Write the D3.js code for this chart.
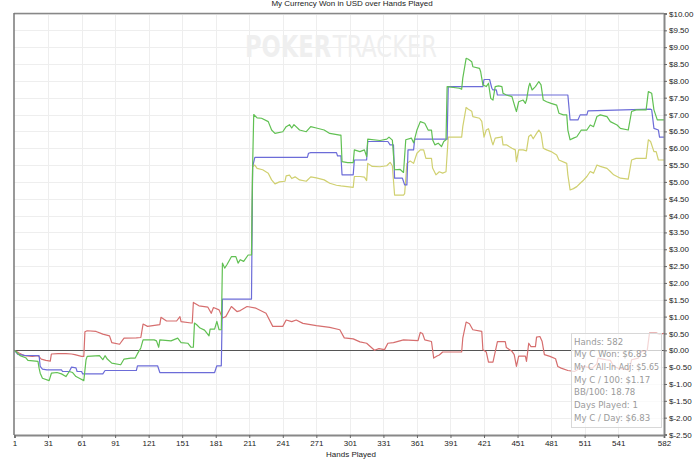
<!DOCTYPE html>
<html>
<head>
<meta charset="utf-8">
<script src="https://cdn.jsdelivr.net/npm/d3@7"></script>
<style>
  body { margin: 0; background: #fff; }
  svg { display: block; font-family: "Liberation Sans", Arial, sans-serif; }
</style>
</head>
<body>
<div id="chart"></div>
<script>
// hands played, tick labels
const xTicks = [1, 31, 61, 91, 121, 151, 181, 211, 241, 271, 301, 331, 361, 391, 421, 451, 481, 511, 541, 582];
const yTicks = d3.range(-2.5, 10.01, 0.5);

// [hand, dollars]
const netWon = [
  [1,0],[6,-0.16],[11,-0.22],[13,-0.3],[22,-0.33],[23,-0.53],[24,-0.68],[26,-0.83],[32,-0.9],[34,-0.68],
  [39,-0.66],[43,-0.7],[47,-0.78],[50,-0.63],[53,-0.66],[56,-0.78],[59,-0.83],[63,-0.9],[65,-0.28],[66,-0.18],
  [77,-0.16],[80,-0.28],[82,-0.16],[84,-0.26],[88,-0.38],[96,-0.43],[99,-0.26],[105,-0.23],[109,-0.23],[111,-0.1],
  [114,0.07],[116,0.31],[126,0.31],[128,0.28],[130,0.09],[131,0.31],[141,0.28],[147,0.36],[150,0.23],[156,0.21],
  [159,0.09],[161,0.09],[162,0.81],[164,0.76],[167,0.66],[171,0.6],[175,0.43],[176,0.63],[180,0.63],[182,0.86],
  [184,0.61],[186,0.61],[187,2.59],[189,2.44],[191,2.54],[195,2.78],[199,2.78],[201,2.59],[203,2.69],[206,2.64],
  [210,2.83],[213,2.83],[214,5.45],[215,7.0],[218,6.9],[222,6.89],[228,6.79],[231,6.54],[234,6.44],[241,6.49],
  [244,6.64],[247,6.7],[249,6.6],[251,6.7],[256,6.54],[262,6.49],[266,6.64],[271,6.6],[278,6.54],[283,6.44],
  [292,6.39],[293,6.39],[294,5.6],[299,5.57],[304,5.57],[305,5.95],[310,5.9],[314,5.95],[316,5.75],[317,6.27],
  [328,6.23],[334,6.27],[336,6.33],[339,6.24],[341,5.36],[346,5.37],[349,5.28],[351,6.25],[356,6.3],[358,6.16],
  [361,6.54],[364,6.79],[368,6.74],[371,6.54],[374,6.54],[375,6.25],[377,6.1],[380,6.15],[383,6.05],[385,6.2],
  [387,6.25],[388,7.83],[399,7.78],[401,7.75],[402,8.08],[405,8.67],[407,8.64],[410,8.57],[411,8.42],[417,8.37],
  [418,8.27],[420,7.88],[423,7.83],[425,7.93],[427,7.48],[429,7.43],[431,7.83],[434,7.85],[437,7.83],[438,7.63],
  [441,7.58],[446,7.53],[449,7.19],[450,7.09],[452,7.38],[456,7.43],[458,7.33],[459,7.43],[461,7.83],[462,7.93],
  [464,7.73],[467,7.83],[469,7.93],[470,7.98],[472,7.88],[474,7.43],[477,7.38],[481,7.33],[486,7.28],[488,7.04],
  [492,6.99],[495,6.99],[496,6.54],[498,6.25],[501,6.3],[504,6.34],[507,6.49],[508,6.54],[513,6.54],[516,6.69],
  [519,6.64],[522,6.94],[525,6.99],[531,6.94],[534,6.79],[540,6.69],[543,6.59],[550,6.54],[553,7.09],[557,7.14],
  [566,7.14],[568,7.68],[571,7.63],[573,7.14],[576,6.84],[582,6.84]
];

const showdownWon = [
  [1,0],[4,-0.12],[10,-0.15],[23,-0.16],[24,-0.48],[26,-0.56],[30,-0.58],[43,-0.58],[44,-0.63],[50,-0.63],
  [52,-0.5],[56,-0.52],[57,-0.63],[61,-0.63],[62,-0.7],[80,-0.7],[82,-0.6],[110,-0.6],[111,-0.46],[129,-0.46],
  [131,-0.66],[180,-0.66],[182,-0.46],[186,-0.46],[187,1.52],[213,1.52],[214,5.45],[216,5.73],[263,5.73],[264,5.85],
  [266,5.87],[289,5.87],[290,5.77],[293,5.77],[294,5.21],[304,5.21],[305,5.65],[316,5.65],[317,6.2],[335,6.2],
  [337,6.1],[340,6.1],[341,5.11],[348,5.11],[350,4.91],[352,4.91],[353,5.95],[358,5.95],[359,6.27],[388,6.27],
  [389,7.83],[420,7.83],[421,8.04],[426,8.04],[428,7.78],[429,7.73],[432,7.73],[433,7.58],[496,7.58],[498,6.84],
  [505,6.84],[507,6.99],[513,6.99],[514,7.11],[570,7.16],[571,7.14],[573,6.59],[577,6.54],[578,6.33],[582,6.33]
];

const nonShowdownWon = [
  [1,0],[5,-0.08],[10,-0.16],[17,-0.18],[22,-0.16],[25,-0.26],[29,-0.3],[33,-0.32],[34,-0.11],[40,-0.1],
  [47,-0.1],[52,-0.11],[55,-0.13],[61,-0.18],[63,-0.18],[64,0.55],[66,0.58],[74,0.56],[80,0.48],[86,0.43],
  [88,0.23],[95,0.18],[99,0.36],[110,0.37],[114,0.38],[116,0.78],[120,0.71],[131,0.76],[132,0.98],[137,0.87],
  [146,0.87],[149,1.0],[150,0.85],[159,0.81],[160,0.81],[161,1.42],[166,1.32],[174,1.28],[177,1.1],[179,1.27],
  [184,1.2],[187,0.96],[190,1.0],[195,1.3],[200,1.15],[203,1.18],[209,1.3],[217,1.25],[226,1.1],[232,0.71],
  [241,0.71],[244,0.9],[249,0.85],[253,0.9],[259,0.8],[271,0.73],[283,0.68],[292,0.61],[296,0.37],[304,0.34],
  [310,0.25],[316,0.21],[323,0.0],[327,0.05],[332,0.02],[335,0.21],[340,0.23],[349,0.31],[362,0.29],[364,0.53],
  [366,0.5],[368,0.31],[374,0.26],[376,-0.23],[379,-0.17],[381,-0.14],[384,-0.05],[401,-0.05],[402,0.36],[405,0.84],
  [408,0.79],[411,0.61],[419,0.56],[420,0.02],[423,-0.05],[425,-0.35],[429,-0.35],[431,-0.05],[433,0.26],[440,0.26],
  [441,0.08],[446,-0.03],[448,-0.13],[450,-0.48],[452,-0.17],[458,-0.17],[459,-0.33],[461,0.21],[463,0.11],[467,0.11],
  [468,0.39],[471,0.41],[473,0.26],[475,-0.13],[480,-0.18],[485,-0.25],[487,-0.48],[490,-0.53],[496,-0.6],[502,-0.63],
  [506,-0.55],[509,-0.48],[518,-0.53],[522,-0.4],[523,-0.23],[530,-0.28],[534,-0.3],[537,-0.48],[541,-0.53],[547,-0.56],
  [550,-0.58],[552,-0.43],[553,-0.28],[559,-0.23],[562,-0.03],[567,0.0],[569,0.51],[575,0.51],[578,0.48],[582,0.5]
];

const allInAdj = [
  [213,2.83],[214,5.45],[216,5.5],[218,5.4],[223,5.36],[228,5.26],[231,5.06],[234,4.94],[238,5.0],[243,5.02],
  [244,5.18],[247,5.2],[249,5.1],[252,5.15],[256,5.06],[262,5.02],[266,5.15],[271,5.12],[278,5.06],[283,4.96],
  [289,4.9],[293,4.88],[304,4.84],[305,5.16],[310,5.16],[314,5.14],[316,5.04],[317,5.55],[321,5.46],[328,5.45],
  [334,5.48],[337,5.58],[339,5.48],[341,4.61],[349,4.61],[350,4.65],[352,5.55],[355,5.62],[358,5.55],[361,5.85],
  [364,5.95],[367,5.95],[369,5.7],[374,5.7],[375,5.41],[378,5.21],[381,5.3],[384,5.26],[387,5.3],[389,6.33],
  [401,6.33],[402,6.64],[405,7.21],[407,7.16],[410,7.1],[411,6.94],[417,6.89],[419,6.8],[421,6.33],[423,6.54],
  [425,6.58],[428,6.2],[429,6.1],[431,6.3],[436,6.33],[437,6.35],[438,6.1],[441,6.1],[446,6.0],[449,5.95],
  [450,5.6],[452,5.95],[456,5.95],[459,5.92],[461,6.35],[463,6.4],[465,6.28],[468,6.44],[470,6.54],[472,6.44],
  [474,6.0],[477,5.95],[481,5.9],[486,5.8],[488,5.65],[495,5.55],[496,5.21],[498,4.76],[501,4.8],[504,4.86],
  [507,4.96],[510,5.05],[513,5.16],[516,5.31],[519,5.26],[522,5.5],[525,5.46],[531,5.4],[534,5.31],[537,5.21],
  [543,5.11],[550,5.08],[553,5.65],[557,5.7],[566,5.7],[568,6.25],[570,6.2],[573,5.9],[575,5.9],[577,5.65],[582,5.65]
];

const stats = [
  "Hands: 582",
  "My C Won: $6.83",
  "My C All-In Adj: $5.65",
  "My C / 100: $1.17",
  "BB/100: 18.78",
  "Days Played: 1",
  "My C / Day: $6.83"
];

const W = 700, H = 460;
const plot = { left: 14, top: 14, right: 664, bottom: 435 };

const svg = d3.select('#chart').append('svg')
    .attr('width', W)
    .attr('height', H);

const x = d3.scaleLinear().domain([1, 582]).range([plot.left + 0.5, plot.right]);
const y = d3.scaleLinear().domain([-2.5, 10]).range([plot.bottom - 0.5, plot.top - 0.5]);

// grid
svg.append('g')
    .selectAll('line')
    .data(xTicks.slice(1, -1))
    .enter().append('line')
    .attr('x1', d => Math.round(x(d)) + 0.5).attr('x2', d => Math.round(x(d)) + 0.5)
    .attr('y1', plot.top).attr('y2', plot.bottom)
    .attr('stroke', '#eeeeee');

svg.append('g')
    .selectAll('line')
    .data(yTicks)
    .enter().append('line')
    .attr('x1', plot.left).attr('x2', plot.right)
    .attr('y1', d => Math.round(y(d)) + 0.5).attr('y2', d => Math.round(y(d)) + 0.5)
    .attr('stroke', '#eeeeee');

// watermark: two words placed end to end, then squeezed to fit
const wm = svg.append('g');
const wmFont = '"Liberation Sans Narrow", "DejaVu Sans Condensed", sans-serif';
const poker = wm.append('text')
    .attr('x', 0).attr('y', 0)
    .style('font-family', wmFont)
    .style('font-size', '30px')
    .style('font-weight', 'bold')
    .attr('fill', '#efefef')
    .text('POKER');
const pw = poker.node().getComputedTextLength();
const tracker = wm.append('text')
    .attr('x', pw + 2).attr('y', 0)
    .style('font-family', wmFont)
    .style('font-size', '30px')
    .attr('fill', '#efefef')
    .text('TRACKER');
const total = pw + 2 + tracker.node().getComputedTextLength();
wm.attr('transform', `translate(245,57) scale(${192 / total},1)`);

// zero line
svg.append('line')
    .attr('x1', plot.left).attr('x2', plot.right)
    .attr('y1', Math.round(y(0)) + 0.5).attr('y2', Math.round(y(0)) + 0.5)
    .attr('stroke', '#555')
    .attr('stroke-width', 1.2);

const line = d3.line()
    .x(d => x(d[0]))
    .y(d => y(d[1]));

const series = [
  { data: allInAdj, color: '#d0d070' },
  { data: nonShowdownWon, color: '#d66e6e' },
  { data: showdownWon, color: '#6c6cd8' },
  { data: netWon, color: '#60c052' }
];

svg.append('g')
    .selectAll('path')
    .data(series)
    .enter().append('path')
    .attr('d', d => line(d.data))
    .attr('fill', 'none')
    .attr('stroke', d => d.color)
    .attr('stroke-width', 1.2)
    .attr('stroke-linejoin', 'round');

// frame
svg.append('line')
    .attr('x1', plot.left).attr('x2', plot.right)
    .attr('y1', plot.top - 0.5).attr('y2', plot.top - 0.5)
    .attr('stroke', '#888').attr('stroke-width', 1.5);

const xAxis = svg.append('g')
    .attr('transform', `translate(0,${plot.bottom})`)
    .call(d3.axisBottom(x).tickValues(xTicks).tickSize(3).tickFormat(d3.format('d')));

const yAxis = svg.append('g')
    .attr('transform', `translate(${plot.right},0)`)
    .call(d3.axisRight(y).tickValues(yTicks).tickSize(3).tickFormat(d => '$' + d.toFixed(2)));

svg.append('line')
    .attr('x1', plot.left).attr('x2', plot.left)
    .attr('y1', plot.top - 1).attr('y2', plot.bottom)
    .attr('stroke', '#777').attr('stroke-width', 1.5);

[xAxis, yAxis].forEach(a => {
    a.select('.domain').attr('stroke', '#888').attr('stroke-width', 2);
    a.selectAll('.tick line').attr('stroke', '#666');
    a.selectAll('.tick text')
        .attr('fill', '#222')
        .style('font-size', '8px')
        .style('font-family', '"Liberation Sans", Arial, sans-serif');
});
yAxis.selectAll('.tick text').attr('x', 5);
xAxis.selectAll('.tick text').attr('y', 5);

// title and axis label
svg.append('text')
    .attr('x', 352).attr('y', 6)
    .attr('text-anchor', 'middle')
    .style('font-size', '8px')
    .attr('fill', '#222')
    .text('My Currency Won in USD over Hands Played');

svg.append('text')
    .attr('x', 351).attr('y', 457)
    .attr('text-anchor', 'middle')
    .style('font-size', '8px')
    .attr('fill', '#222')
    .text('Hands Played');

// stats box
const box = svg.append('g').attr('transform', 'translate(571,333)');
box.append('rect')
    .attr('x', 0.5).attr('y', 0.5)
    .attr('width', 90).attr('height', 94)
    .attr('fill', '#fff').attr('fill-opacity', 0.72)
    .attr('stroke', '#d8d8d8');
box.selectAll('text')
    .data(stats)
    .enter().append('text')
    .attr('x', 3)
    .attr('y', (d, i) => 11.5 + i * 12.67)
    .style('font-size', '8.6px')
    .style('font-family', '"DejaVu Sans", Verdana, sans-serif')
    .attr('textLength', d => d === stats[2] ? 85 : null)
    .attr('lengthAdjust', 'spacingAndGlyphs')
    .attr('fill', '#9a9a9a')
    .text(d => d);
</script>
</body>
</html>
